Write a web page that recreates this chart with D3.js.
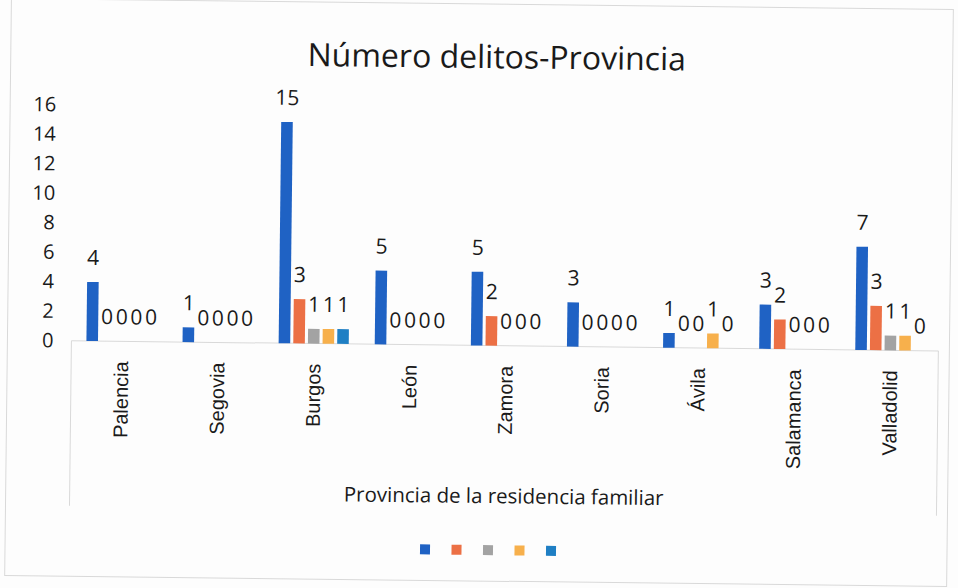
<!DOCTYPE html>
<html>
<head>
<meta charset="utf-8">
<script src="https://cdn.jsdelivr.net/npm/d3@7"></script>
<style>
  body { margin: 0; background: #fdfdfd; }
  svg { display: block; }
</style>
</head>
<body>
<div id="chart"></div>
<script>
// datos
const provincias = ["Palencia", "Segovia", "Burgos", "León", "Zamora", "Soria", "Ávila", "Salamanca", "Valladolid"];
const series = ["s1", "s2", "s3", "s4", "s5"];
const serie1 = [4, 1, 15, 5, 5, 3, 1, 3, 7];
const serie2 = [0, 0, 3, 0, 2, 0, 0, 2, 3];
const serie3 = [0, 0, 1, 0, 0, 0, 0, 0, 1];
const serie4 = [0, 0, 1, 0, 0, 0, 1, 0, 1];
const serie5 = [0, 0, 1, 0, 0, 0, 0, 0, 0];
const yTicks = [0, 2, 4, 6, 8, 10, 12, 14, 16];
const colores = ["#1f62c4", "#ec7045", "#a3a3a3", "#f7b04c", "#1f7fc4"];

const valores = [serie1, serie2, serie3, serie4, serie5];
const width = 958;
const height = 588;

const svg = d3.select("#chart")
  .append("svg")
  .attr("width", width)
  .attr("height", height);

// el escaneo esta un poco girado
const g = svg.append("g").attr("transform", "rotate(0.67, 479, 294)");

g.append("rect")
  .attr("x", 8).attr("y", 4)
  .attr("width", 942).attr("height", 577)
  .attr("fill", "none")
  .attr("stroke", "#d9d9d9");

const x0 = d3.scaleBand()
  .domain(provincias)
  .range([74, 939])
  .paddingInner(0.24)
  .paddingOuter(0.12);

const x1 = d3.scaleBand()
  .domain(series)
  .range([0, x0.bandwidth()])
  .paddingInner(0.21)
  .paddingOuter(0.1);

const y = d3.scaleLinear()
  .domain([0, 16])
  .range([345.5, 109.5]);

// titulo
g.append("text")
  .attr("x", 494).attr("y", 68)
  .attr("text-anchor", "middle")
  .style("font-family", "Open Sans")
  .style("font-size", "32px")
  .attr("fill", "#1a1a1a")
  .text("Número delitos-Provincia");

// eje Y (solo etiquetas)
const yAxis = g.append("g")
  .attr("transform", "translate(54,0)")
  .call(d3.axisLeft(y).tickValues(yTicks).tickSize(0).tickPadding(0));
yAxis.select(".domain").remove();
yAxis.selectAll("text")
  .style("font-family", "Open Sans")
  .style("font-size", "20px")
  .attr("fill", "#1a1a1a");

// linea base y lineas laterales
g.append("line")
  .attr("x1", 72).attr("x2", 939)
  .attr("y1", y(0)).attr("y2", y(0))
  .attr("stroke", "#d9d9d9");
[72, 939].forEach((xx) => {
  g.append("line")
    .attr("x1", xx).attr("x2", xx)
    .attr("y1", y(0)).attr("y2", y(0) + 165)
    .attr("stroke", "#d9d9d9");
});

// eje X
const xAxis = g.append("g")
  .attr("transform", `translate(0,${y(0)})`)
  .call(d3.axisBottom(x0).tickSize(0));
xAxis.select(".domain").remove();
xAxis.selectAll("text")
  .attr("transform", "rotate(-90)")
  .attr("x", -20)
  .attr("y", 0)
  .attr("dy", "0.35em")
  .attr("text-anchor", "end")
  .style("font-family", "Liberation Sans")
  .style("font-size", "20px")
  .attr("fill", "#1a1a1a");

// barras
const grupos = g.selectAll(".grupo")
  .data(provincias)
  .enter()
  .append("g")
  .attr("class", "grupo")
  .attr("transform", (d) => `translate(${x0(d)},0)`);

grupos.selectAll("rect")
  .data((d, i) => series.map((s, j) => ({ s: s, j: j, v: valores[j][i] })))
  .enter()
  .append("rect")
  .attr("x", (d) => x1(d.s))
  .attr("y", (d) => y(d.v))
  .attr("width", x1.bandwidth())
  .attr("height", (d) => y(0) - y(d.v))
  .attr("fill", (d) => colores[d.j]);

// etiquetas de datos
grupos.selectAll(".lbl")
  .data((d, i) => series.map((s, j) => ({ s: s, j: j, v: valores[j][i] })))
  .enter()
  .append("text")
  .attr("class", "lbl")
  .attr("x", (d) => x1(d.s) + x1.bandwidth() / 2)
  .attr("y", (d) => y(d.v) - 17)
  .attr("text-anchor", "middle")
  .style("font-family", "Open Sans")
  .style("font-size", "21px")
  .attr("fill", "#1a1a1a")
  .text((d) => d.v);

// titulo eje X
g.append("text")
  .attr("x", 506).attr("y", 503)
  .attr("text-anchor", "middle")
  .style("font-family", "Open Sans")
  .style("font-size", "20.5px")
  .attr("fill", "#1a1a1a")
  .text("Provincia de la residencia familiar");

// leyenda sin nombres
g.selectAll(".leg")
  .data(series)
  .enter()
  .append("rect")
  .attr("class", "leg")
  .attr("x", (d, i) => 423 + i * 31.5)
  .attr("y", 545)
  .attr("width", 10)
  .attr("height", 10)
  .attr("fill", (d, i) => colores[i]);
</script>
</body>
</html>
